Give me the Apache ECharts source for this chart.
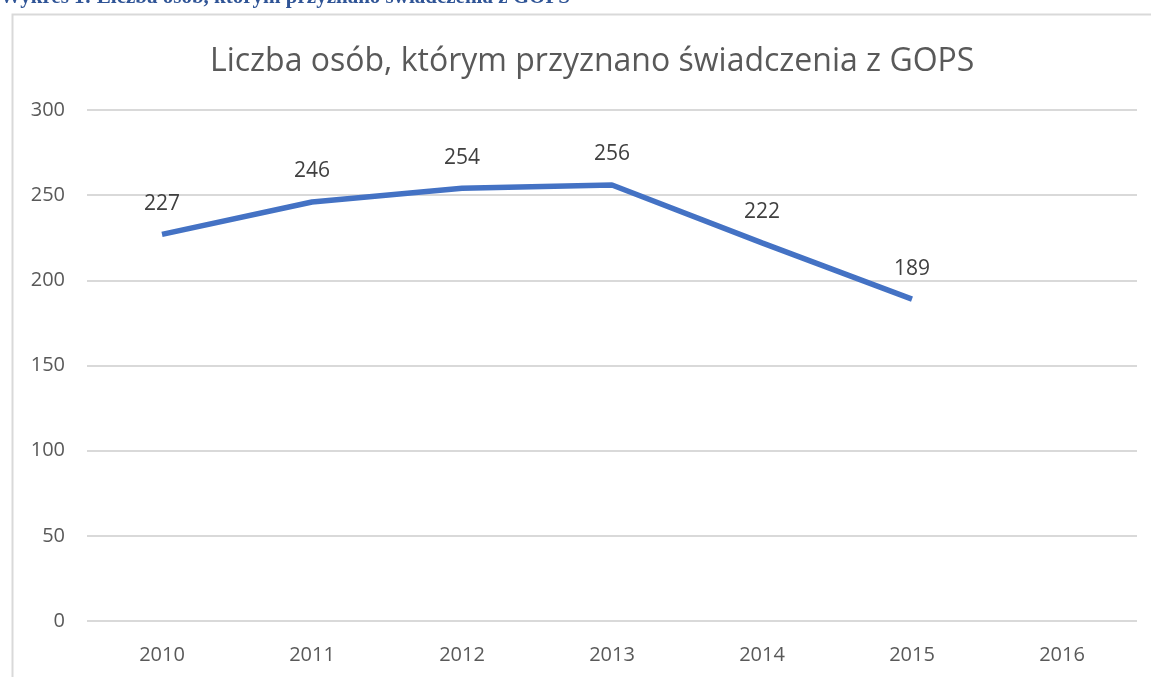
<!DOCTYPE html>
<html>
<head>
<meta charset="utf-8">
<script src="https://cdn.jsdelivr.net/npm/echarts@6/dist/echarts.min.js"></script>
<style>
  html, body { margin: 0; padding: 0; background: #fff; }
  #chart { width: 1151px; height: 677px; }
</style>
</head>
<body>
<div id="chart"></div>
<script>
  // dane z wykresu
  const years = ['2010', '2011', '2012', '2013', '2014', '2015', '2016'];
  const persons = [227, 246, 254, 256, 222, 189, null];
  const yTicks = [0, 50, 100, 150, 200, 250, 300];

  const chart = echarts.init(document.getElementById('chart'));

  const option = {
    animation: false,
    graphic: [
      {
        type: 'rect',
        left: 10,
        top: 12,
        shape: { width: 1200, height: 720 },
        style: { fill: 'none', stroke: '#d9d9d9', lineWidth: 2 },
        silent: true
      },
      {
        type: 'text',
        left: 0,
        top: -13,
        style: {
          text: 'Wykres 1: Liczba osób, którym przyznano świadczenia z GOPS',
          font: 'bold 21px "Liberation Serif"',
          fill: '#2f5496'
        }
      }
    ],
    title: {
      text: 'Liczba osób, którym przyznano świadczenia z GOPS',
      left: 205,
      top: 41,
      textStyle: {
        fontFamily: 'Open Sans',
        fontWeight: 'normal',
        fontSize: 32,
        color: '#595959'
      }
    },
    grid: {
      left: 87,
      right: 14,
      top: 110,
      bottom: 56
    },
    xAxis: {
      type: 'category',
      data: years,
      boundaryGap: true,
      axisLine: { show: false },
      axisTick: { show: false },
      axisLabel: {
        margin: 24,
        fontFamily: 'Open Sans',
        fontSize: 20,
        color: '#595959'
      }
    },
    yAxis: {
      type: 'value',
      min: yTicks[0],
      max: yTicks[yTicks.length - 1],
      interval: 50,
      axisLine: { show: false },
      axisTick: { show: false },
      splitLine: { lineStyle: { color: '#d9d9d9', width: 2 } },
      axisLabel: {
        margin: 22,
        fontFamily: 'Open Sans',
        fontSize: 20,
        color: '#595959'
      }
    },
    series: [
      {
        name: 'Liczba osób',
        type: 'line',
        data: persons,
        showSymbol: true,
        symbol: 'circle',
        symbolSize: 0,
        lineStyle: { color: '#4472c4', width: 5.5 },
        itemStyle: { color: '#4472c4' },
        label: {
          show: true,
          position: 'top',
          distance: 20,
          fontFamily: 'Open Sans',
          fontSize: 21,
          color: '#404040'
        }
      }
    ]
  };

  chart.setOption(option);
</script>
</body>
</html>
